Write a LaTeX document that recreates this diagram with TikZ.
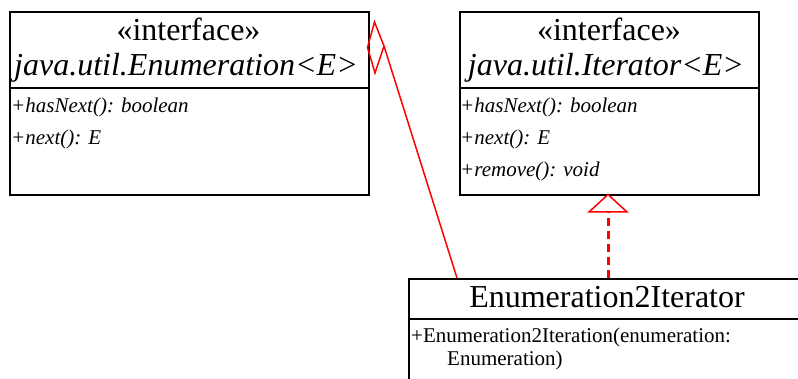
\documentclass[tikz,border=0pt]{standalone}
\usepackage{fontspec}
\setmainfont{Liberation Serif}
\begin{document}
\begin{tikzpicture}[x=1pt,y=-1pt,
  umlbox/.style={draw=black,line width=1.6pt,inner sep=0pt,anchor=north west},
  divider/.style={draw=black,line width=1.4pt},
  bigtxt/.style={inner sep=0pt,font=\fontsize{32}{36}\selectfont},
  member/.style={inner sep=0pt,anchor=base west,font=\fontsize{21}{24}\selectfont\itshape},
  plainmember/.style={inner sep=0pt,anchor=base west,font=\fontsize{21}{24}\selectfont},
  rel/.style={draw=red,line width=1.5pt},
  realize/.style={draw=red,line width=3pt,dash pattern=on 8pt off 5pt}]
\useasboundingbox (0,0) rectangle (798,379);

% interface java.util.Enumeration<E>
\node[umlbox,minimum width=359pt,minimum height=183pt] (enum) at (9,11) {};
\draw[divider] (9,88) -- (368,88);
\node[bigtxt,anchor=base] (enumst) at (188.5,41) {«interface»};
\node[bigtxt,anchor=base] (enumname) at (186,76) {\itshape java.util.Enumeration<E>};
\node[member] (enumm1) at (11,113) {+hasNext(): boolean};
\node[member] (enumm2) at (11,145) {+next(): E};

% interface java.util.Iterator<E>
\node[umlbox,minimum width=299pt,minimum height=183pt] (iter) at (459,11) {};
\draw[divider] (459,88) -- (758,88);
\node[bigtxt,anchor=base] (iterst) at (609,41) {«interface»};
\node[bigtxt,anchor=base] (itername) at (606,76) {\itshape java.util.Iterator<E>};
\node[member] (iterm1) at (460,113) {+hasNext(): boolean};
\node[member] (iterm2) at (460,145) {+next(): E};
\node[member] (iterm3) at (460,177) {+remove(): void};

% class Enumeration2Iterator
\node[umlbox,minimum width=400pt,minimum height=120pt] (adapt) at (408,278) {};
\draw[divider] (408,319) -- (800,319);
\node[bigtxt,anchor=base] (adaptname) at (607,308) {Enumeration2Iterator};
\node[plainmember] (adaptm1) at (411,343) {+Enumeration2Iteration(enumeration:};
\node[plainmember] (adaptm2) at (447,366) {Enumeration)};

% aggregation: diamond at Enumeration, line to Enumeration2Iterator
\coordinate (dl) at (367.5,47.5);
\coordinate (dt) at (374.5,22);
\coordinate (dr) at (384,46);
\coordinate (db) at (375,73);
\coordinate (aggend) at (457,278);
\draw[rel,line join=miter] (dl) -- (dt) -- (dr) -- (db) -- cycle;
\draw[rel] (dr) -- (aggend);

% realization: hollow triangle at Iterator, dashed line from Enumeration2Iterator
\coordinate (tapex) at (608,194.5);
\coordinate (tbl) at (589,212);
\coordinate (tbr) at (627,212);
\coordinate (tbase) at (608,212);
\coordinate (realend) at (608,278);
\draw[rel,line join=miter] (tapex) -- (tbr) -- (tbl) -- cycle;
\draw[realize] (realend) -- (tbase);
\end{tikzpicture}
\end{document}
